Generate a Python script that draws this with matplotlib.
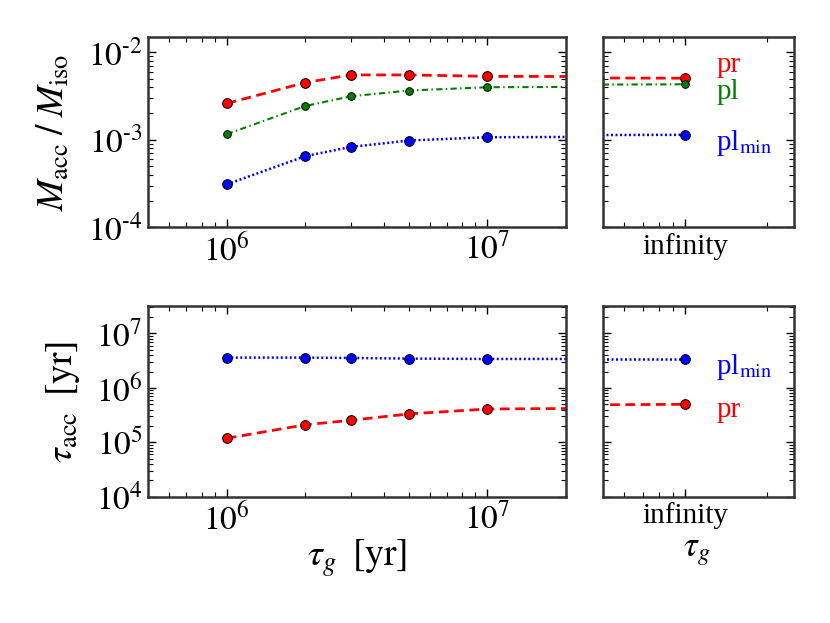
import numpy as np
import matplotlib
matplotlib.use('Agg')
import matplotlib.pyplot as plt
from matplotlib.ticker import (FixedLocator, FixedFormatter, NullFormatter,
                               LogLocator, FuncFormatter)

plt.rcParams['font.family'] = 'serif'
plt.rcParams['font.serif'] = ['Liberation Serif', 'DejaVu Serif']
plt.rcParams['mathtext.fontset'] = 'stix'

# tau_g values; the last one stands for "infinity"
tau_g = [1e6, 2e6, 3e6, 5e6, 1e7, 1e10]
tau_inf = 1e10

# M_acc / M_iso
macc_pr = [2.6e-3, 4.5e-3, 5.5e-3, 5.5e-3, 5.3e-3, 5.05e-3]
macc_pl = [1.16e-3, 2.43e-3, 3.14e-3, 3.65e-3, 3.98e-3, 4.3e-3]
macc_plmin = [3.1e-4, 6.5e-4, 8.3e-4, 9.8e-4, 1.07e-3, 1.14e-3]

# tau_acc [yr]
tacc_pr = [1.19e5, 2.1e5, 2.55e5, 3.33e5, 4.1e5, 5.0e5]
tacc_plmin = [3.6e6, 3.6e6, 3.55e6, 3.45e6, 3.4e6, 3.4e6]


def pow10(v, pos):
    e = int(round(np.log10(v)))
    if e < 0:
        return r'$10^{\text{-}%d}$' % (-e)
    return r'$10^{%d}$' % e


fig = plt.figure(figsize=(8.3, 6.23), dpi=100)
ax1 = fig.add_axes([0.1787, 0.635, 0.503, 0.306])
ax2 = fig.add_axes([0.7261, 0.635, 0.2305, 0.306])
ax3 = fig.add_axes([0.1787, 0.2025, 0.503, 0.306])
ax4 = fig.add_axes([0.7261, 0.2025, 0.2305, 0.306])

mk = dict(marker='o', mec='k', mew=0.7)
red_ls = dict(color='red', lw=2, dashes=(3.5, 2.0), ms=7)
grn_ls = dict(color='green', lw=1.5, dashes=(3.0, 1.6, 0.7, 1.6), ms=5.5)
blu_ls = dict(color='blue', lw=1.8, dashes=(0.8, 1.0), ms=7)

for ax in [ax1, ax2]:
    ax.plot(tau_g, macc_pr, **red_ls, **mk)
    ax.plot(tau_g, macc_pl, **grn_ls, **mk)
    ax.plot(tau_g, macc_plmin, **blu_ls, **mk)
    ax.set_ylim(1e-4, 1.5e-2)

for ax in [ax3, ax4]:
    ax.plot(tau_g, tacc_plmin, **blu_ls, **mk)
    ax.plot(tau_g, tacc_pr, **red_ls, **mk)
    ax.set_ylim(1e4, 10**7.5)

for ax in [ax1, ax2, ax3, ax4]:
    ax.set_xscale('log')
    ax.set_yscale('log')
    ax.yaxis.set_major_locator(LogLocator(base=10, numticks=20))
    ax.yaxis.set_minor_locator(LogLocator(base=10, subs=np.arange(2, 10), numticks=20))
    ax.yaxis.set_major_formatter(FuncFormatter(pow10))
    ax.yaxis.set_minor_formatter(NullFormatter())
    ax.tick_params(which='both', direction='in', top=True, right=True, labelsize=24)
    ax.tick_params(which='major', length=6, width=1, pad=4)
    ax.tick_params(which='minor', length=3.5, width=0.8)
    for s in ax.spines.values():
        s.set_linewidth(1.8)
        s.set_color('#333333')

for ax in [ax1, ax3]:
    ax.set_xlim(5e5, 2e7)
    ax.xaxis.set_major_formatter(FuncFormatter(pow10))

for ax in [ax2, ax4]:
    ax.set_xlim(5e9, 2.5e10)
    ax.xaxis.set_major_locator(FixedLocator([tau_inf]))
    ax.xaxis.set_major_formatter(FixedFormatter(['infinity']))
    ax.xaxis.set_minor_formatter(NullFormatter())
    ax.tick_params(axis='x', labelsize=21, pad=4)
    ax.tick_params(axis='y', labelleft=False)

ax1.set_ylabel(r'$M_{\rm acc}\;/\;M_{\rm iso}$', fontsize=27)
ax1.yaxis.set_label_coords(-0.183, 0.5)
ax3.set_ylabel(r'$\tau_{\rm acc}\;\; [{\rm yr}]$', fontsize=27)
ax3.yaxis.set_label_coords(-0.159, 0.5)
ax3.set_xlabel(r'$\tau_g\;\; [{\rm yr}]$', fontsize=27)
ax3.xaxis.set_label_coords(0.5, -0.215)
ax4.set_xlabel(r'$\tau_g$', fontsize=25)
ax4.xaxis.set_label_coords(0.49, -0.2)

ax2.text(1.3e10, 7.2e-3, 'pr', color='red', fontsize=21, va='center')
ax2.text(1.3e10, 3.5e-3, 'pl', color='green', fontsize=21, va='center')
ax2.text(1.3e10, 9.3e-4, r'pl$_{\rm min}$', color='blue', fontsize=21, va='center')
ax4.text(1.3e10, 2.4e6, r'pl$_{\rm min}$', color='blue', fontsize=21, va='center')
ax4.text(1.3e10, 3.95e5, 'pr', color='red', fontsize=21, va='center')

fig.savefig('out.png', dpi=100)
